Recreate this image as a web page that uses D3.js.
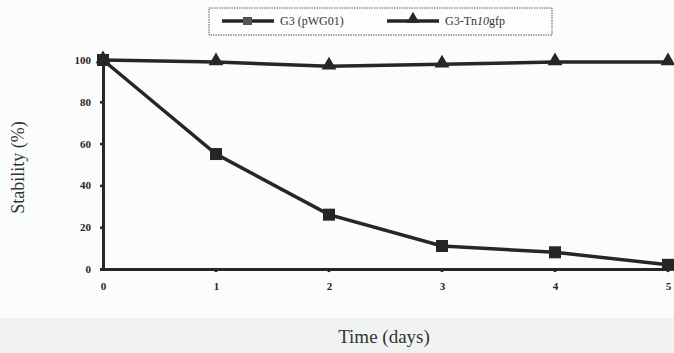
<!DOCTYPE html>
<html>
<head>
<meta charset="utf-8">
<script src="https://cdn.jsdelivr.net/npm/d3@7"></script>
<style>
  html, body { margin: 0; padding: 0; background: #fbfcfc; }
  svg { display: block; font-family: "Liberation Serif", "DejaVu Serif", serif; }
</style>
</head>
<body>
<div id="chart"></div>
<script>
// data
const days = [0, 1, 2, 3, 4, 5];
const pwg01 = [100, 55, 26, 11, 8, 2];
const tn10gfp = [100, 99, 97, 98, 99, 99];
const yTicks = [0, 20, 40, 60, 80, 100];
const seriesNames = ["G3 (pWG01)", "G3-Tn10gfp"];

const width = 674, height = 353;
const margin = { top: 60, right: 6, bottom: 84, left: 103 };
const ink = "#262626";
const serif = "'Liberation Serif', 'DejaVu Serif', serif";

const svg = d3.select("#chart").append("svg")
    .attr("width", width)
    .attr("height", height);

// faint grey band at the bottom of the scan
svg.append("rect")
    .attr("x", 0).attr("y", 318)
    .attr("width", width).attr("height", height - 318)
    .attr("fill", "#f1f3f3");

const x = d3.scaleLinear().domain([0, 5]).range([margin.left, width - margin.right]);
const y = d3.scaleLinear().domain([0, 100]).range([height - margin.bottom, margin.top]);

// axes
const xAxis = svg.append("g")
    .attr("transform", "translate(0," + y(0) + ")")
    .call(d3.axisBottom(x).tickValues(days).tickSize(0).tickPadding(13).tickFormat(d3.format("d")));
xAxis.attr("font-family", serif);
xAxis.select(".domain").attr("stroke", ink).attr("stroke-width", 3);
xAxis.selectAll("text").attr("fill", ink).attr("font-size", 11).attr("font-weight", "bold");

const yAxis = svg.append("g")
    .attr("transform", "translate(" + x(0) + ",0)")
    .call(d3.axisLeft(y).tickValues(yTicks).tickSize(3).tickPadding(9));
yAxis.attr("font-family", serif);
yAxis.select(".domain").attr("stroke", ink).attr("stroke-width", 3);
yAxis.selectAll(".tick line").attr("stroke", ink).attr("stroke-width", 2.5);
yAxis.selectAll("text").attr("fill", ink).attr("font-size", 11).attr("font-weight", "bold");

// little dots on the x axis at each day
svg.append("g").selectAll("circle")
    .data(days.slice(1))
    .join("circle")
    .attr("cx", d => x(d))
    .attr("cy", y(0) + 1.5)
    .attr("r", 1.8)
    .attr("fill", ink);

// axis titles
svg.append("text")
    .attr("transform", "translate(24," + (y(50) + 3) + ") rotate(-90)")
    .attr("text-anchor", "middle")
    .attr("font-size", 18)
    .attr("fill", "#333")
    .text("Stability (%)");

svg.append("text")
    .attr("x", 384)
    .attr("y", 343)
    .attr("text-anchor", "middle")
    .attr("font-size", 19)
    .attr("fill", "#333")
    .text("Time (days)");

// lines
const line = d3.line()
    .x((d, i) => x(days[i]))
    .y(d => y(d));

svg.append("path")
    .datum(tn10gfp)
    .attr("fill", "none")
    .attr("stroke", ink)
    .attr("stroke-width", 3.5)
    .attr("d", line);

svg.append("path")
    .datum(pwg01)
    .attr("fill", "none")
    .attr("stroke", ink)
    .attr("stroke-width", 3.5)
    .attr("d", line);

const tri = d3.symbol().type(d3.symbolTriangle).size(95);
svg.append("g").selectAll("path")
    .data(tn10gfp)
    .join("path")
    .attr("transform", (d, i) => "translate(" + x(days[i]) + "," + (y(d) - 1) + ")")
    .attr("d", tri)
    .attr("fill", ink);

svg.append("g").selectAll("rect")
    .data(pwg01)
    .join("rect")
    .attr("x", (d, i) => x(days[i]) - 6)
    .attr("y", d => y(d) - 6)
    .attr("width", 12)
    .attr("height", 12)
    .attr("fill", ink);

// legend
const legend = svg.append("g");
legend.append("rect")
    .attr("x", 209).attr("y", 8)
    .attr("width", 343).attr("height", 27)
    .attr("fill", "#fdfdfd")
    .attr("stroke", "#555")
    .attr("stroke-width", 1)
    .attr("stroke-dasharray", "1.5,1");

const legendItems = [
    { name: seriesNames[0], x0: 222, marker: "square" },
    { name: seriesNames[1], x0: 387, marker: "triangle" }
];
const ly = 21;
legendItems.forEach(it => {
    legend.append("line")
        .attr("x1", it.x0).attr("x2", it.x0 + 52)
        .attr("y1", ly).attr("y2", ly)
        .attr("stroke", ink).attr("stroke-width", 3.5);
    if (it.marker === "square") {
        legend.append("rect")
            .attr("x", it.x0 + 21).attr("y", ly - 4)
            .attr("width", 9).attr("height", 8)
            .attr("fill", "#555");
    } else {
        legend.append("path")
            .attr("transform", "translate(" + (it.x0 + 26) + "," + (ly - 2) + ")")
            .attr("d", d3.symbol().type(d3.symbolTriangle).size(70))
            .attr("fill", ink);
    }
    const t = legend.append("text")
        .attr("x", it.x0 + 58)
        .attr("y", ly + 4)
        .attr("font-size", 12)
        .attr("fill", "#333");
    if (it.marker === "square") {
        t.text(it.name);
    } else {
        t.append("tspan").text("G3-Tn");
        t.append("tspan").attr("font-style", "italic").text("10");
        t.append("tspan").text("gfp");
    }
});
</script>
</body>
</html>
